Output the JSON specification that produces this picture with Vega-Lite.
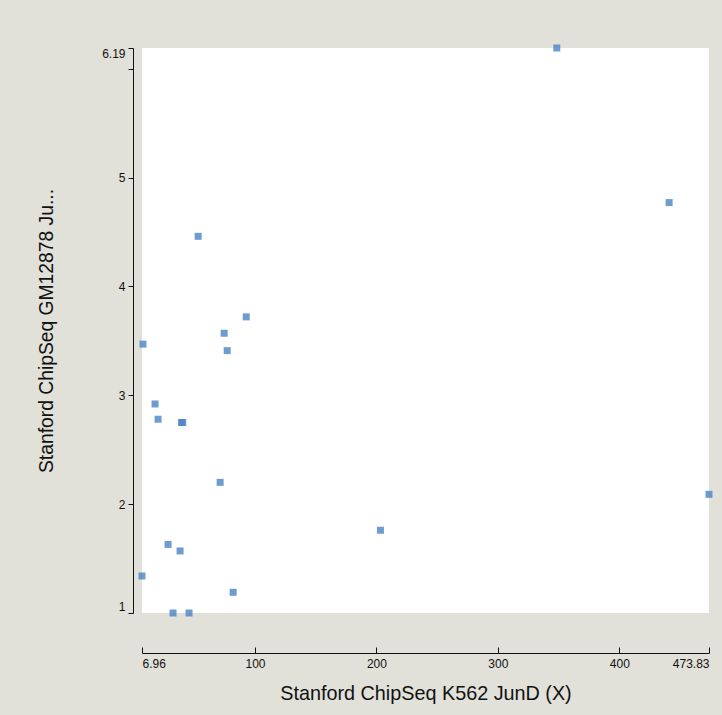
{
  "$schema": "https://vega.github.io/schema/vega-lite/v6.json",
  "autosize": "none",
  "width": 567,
  "height": 565,
  "padding": {"left": 142, "top": 48, "right": 13, "bottom": 102},
  "background": "#e1e1da",
  "view": {"fill": "#ffffff", "stroke": null},
  "data": {
    "values": [
      {"x": 348.5, "y": 6.19},
      {"x": 441.0, "y": 4.77},
      {"x": 53.2, "y": 4.46},
      {"x": 92.8, "y": 3.72},
      {"x": 74.6, "y": 3.57},
      {"x": 77.1, "y": 3.41},
      {"x": 7.8, "y": 3.47},
      {"x": 17.7, "y": 2.92},
      {"x": 20.2, "y": 2.78},
      {"x": 39.5, "y": 2.75},
      {"x": 40.5, "y": 2.75},
      {"x": 71.3, "y": 2.2},
      {"x": 203.3, "y": 1.76},
      {"x": 473.83, "y": 2.09},
      {"x": 28.4, "y": 1.63},
      {"x": 38.3, "y": 1.57},
      {"x": 6.96, "y": 1.34},
      {"x": 82.0, "y": 1.19},
      {"x": 32.5, "y": 1.0},
      {"x": 45.7, "y": 1.0}
    ]
  },
  "mark": {"type": "square", "size": 49, "color": "#4a83c3", "opacity": 0.8, "clip": false},
  "encoding": {
    "x": {
      "field": "x",
      "type": "quantitative",
      "scale": {"domain": [6.96, 473.83], "nice": false, "zero": false},
      "axis": {
        "title": "Stanford ChipSeq K562 JunD (X)",
        "values": [6.96, 100, 200, 300, 400, 473.83],
        "labelExpr": "'' + datum.value",
        "labelFlush": true,
        "grid": false,
        "offset": 40,
        "domainColor": "#111111",
        "tickColor": "#111111",
        "tickSize": -6,
        "labelPadding": 11,
        "labelFont": "Liberation Sans",
        "labelFontSize": 12,
        "labelColor": "#111111",
        "titleFont": "Liberation Sans",
        "titleFontSize": 19.8,
        "titleFontWeight": "normal",
        "titleColor": "#111111",
        "titlePadding": 14
      }
    },
    "y": {
      "field": "y",
      "type": "quantitative",
      "scale": {"domain": [1, 6.19], "nice": false, "zero": false},
      "axis": {
        "title": "Stanford ChipSeq GM12878 Ju...",
        "values": [1, 2, 3, 4, 5, 6, 6.19],
        "labelExpr": "datum.value == 6 ? '' : '' + datum.value",
        "labelFlush": true,
        "grid": false,
        "offset": 9,
        "domainColor": "#111111",
        "tickColor": "#111111",
        "tickSize": 5,
        "labelPadding": 3,
        "labelFont": "Liberation Sans",
        "labelFontSize": 12,
        "labelColor": "#111111",
        "titleFont": "Liberation Sans",
        "titleFontSize": 19.3,
        "titleFontWeight": "normal",
        "titleColor": "#111111",
        "titlePadding": 45
      }
    }
  }
}
